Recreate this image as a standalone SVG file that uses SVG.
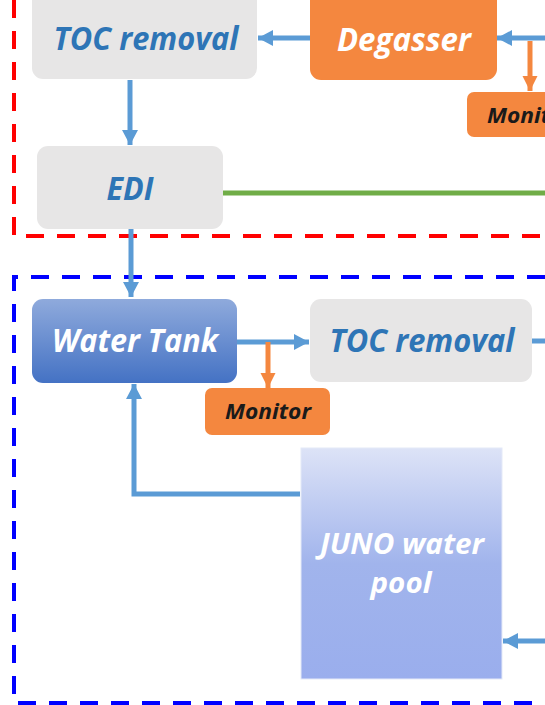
<svg xmlns="http://www.w3.org/2000/svg" width="545" height="705" viewBox="0 0 545 705">
<style>
.grey{fill:#e7e6e6}
.orange{fill:#f4873f}
.t{font-family:"Open Sans","Liberation Sans",sans-serif;font-weight:bold;font-style:italic;text-anchor:middle}
.big{font-size:32px}
.blue{fill:#2e75b6}
.white{fill:#ffffff}
.mon{font-size:21px;fill:#1a1a1a}
.conn{fill:none;stroke-width:5}
.b{stroke:#5b9bd5}
.o{stroke:#f4873f;stroke-width:5}
</style>
<defs>
<marker id="ab" markerUnits="userSpaceOnUse" markerWidth="18" markerHeight="18" refX="15" refY="8" orient="auto"><path d="M0,0 L15,8 L0,16 Z" fill="#5b9bd5"/></marker>
<marker id="ao" markerUnits="userSpaceOnUse" markerWidth="18" markerHeight="18" refX="15" refY="7.5" orient="auto"><path d="M0,0 L15,7.5 L0,15 Z" fill="#f4873f"/></marker>
<linearGradient id="gw" x1="0" y1="0" x2="0" y2="1"><stop offset="0" stop-color="#8faadc"/><stop offset="1" stop-color="#4472c4"/></linearGradient>
<linearGradient id="gj" x1="0" y1="0" x2="0" y2="1"><stop offset="0" stop-color="#dde3f7"/><stop offset="0.5" stop-color="#a1b4ec"/><stop offset="1" stop-color="#9aaeed"/></linearGradient>
</defs>
<g id="regions" fill="none" stroke-width="4">
<path d="M14 0 V236 H545" stroke="#ff0000" stroke-dasharray="18 13"/>
<path d="M545 277 H14 V703 H545" stroke="#0000ff" stroke-dasharray="18 13"/>
</g>
<g id="connectors">
<line class="conn b" x1="310" y1="38" x2="258" y2="38" marker-end="url(#ab)"/>
<line class="conn b" x1="545" y1="38" x2="497" y2="38" marker-end="url(#ab)"/>
<line class="conn o" x1="530" y1="41" x2="530" y2="91" marker-end="url(#ao)"/>
<line class="conn b" x1="130" y1="80" x2="130" y2="145" marker-end="url(#ab)"/>
<line class="conn" stroke="#70ad47" x1="223" y1="193" x2="545" y2="193"/>
<line class="conn b" x1="131" y1="229" x2="131" y2="297" marker-end="url(#ab)"/>
<line class="conn b" x1="237" y1="342" x2="309" y2="342" marker-end="url(#ab)"/>
<line class="conn o" x1="268" y1="342" x2="268" y2="388" marker-end="url(#ao)"/>
<line class="conn b" x1="532" y1="341" x2="545" y2="341"/>
<path class="conn b" d="M300 494 H134 V384" marker-end="url(#ab)"/>
<line class="conn b" x1="545" y1="641" x2="503" y2="641" marker-end="url(#ab)"/>
</g>
<g id="toc1"><rect class="grey" x="32" y="-10" width="225" height="89" rx="11"/><text class="t big blue" x="146" y="50" textLength="185" lengthAdjust="spacingAndGlyphs">TOC removal</text></g>
<g id="degasser"><rect class="orange" x="310" y="-10" width="187" height="90" rx="11"/><text class="t big white" x="404" y="51" textLength="134" lengthAdjust="spacingAndGlyphs">Degasser</text></g>
<g id="monitor1"><rect class="orange" x="467" y="92" width="100" height="45" rx="7"/><text class="t mon" x="530" y="123" textLength="86" lengthAdjust="spacingAndGlyphs">Monitor</text></g>
<g id="edi"><rect class="grey" x="37" y="146" width="186" height="83" rx="11"/><text class="t big blue" x="130" y="200" textLength="47" lengthAdjust="spacingAndGlyphs">EDI</text></g>
<g id="watertank"><rect fill="url(#gw)" x="32" y="299" width="205" height="84" rx="11"/><text class="t big white" x="135" y="352" textLength="166" lengthAdjust="spacingAndGlyphs">Water Tank</text></g>
<g id="toc2"><rect class="grey" x="310" y="299" width="222" height="83" rx="11"/><text class="t big blue" x="422" y="352" textLength="185" lengthAdjust="spacingAndGlyphs">TOC removal</text></g>
<g id="monitor2"><rect class="orange" x="205" y="388" width="125" height="47" rx="7"/><text class="t mon" x="268" y="419" textLength="86" lengthAdjust="spacingAndGlyphs">Monitor</text></g>
<g id="junopool"><rect fill="url(#gj)" stroke="#e4e9f8" stroke-width="1" x="301" y="448" width="201" height="231"/><text class="t white" style="font-size:29px" x="402" y="554" textLength="164" lengthAdjust="spacingAndGlyphs">JUNO water</text><text class="t white" style="font-size:29px" x="401" y="593" textLength="61" lengthAdjust="spacingAndGlyphs">pool</text></g>
</svg>
